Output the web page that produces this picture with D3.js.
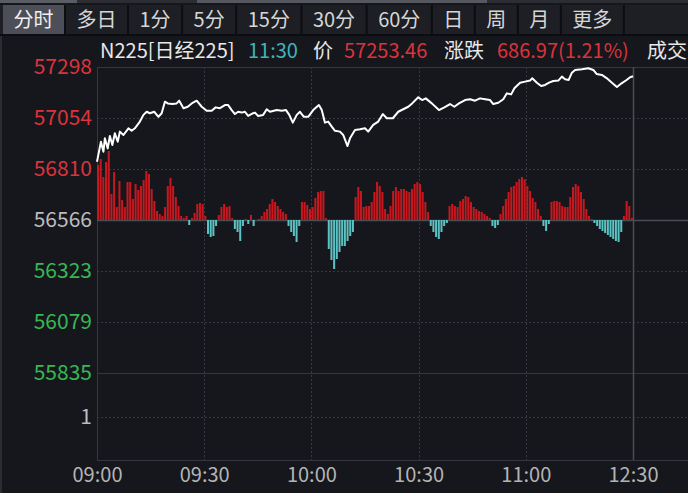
<!DOCTYPE html>
<html>
<head>
<meta charset="utf-8">
<script src="https://cdn.jsdelivr.net/npm/d3@7"></script>
<style>
html, body { margin: 0; padding: 0; background: #16171c; }
svg { display: block; font-family: "Noto Sans CJK SC", "Noto Sans", sans-serif; }
</style>
</head>
<body>
<svg id="chart" width="688" height="493"></svg>
<script>
// --- data ---
const tabLabels = ['分时', '多日', '1分', '5分', '15分', '30分', '60分', '日', '周', '月', '更多'];
const quoteName = 'N225[日经225]';
const quoteTime = '11:30';
const lastPrice = 57253.46;
const change = 686.97;
const changePct = 1.21;
const prevClose = 56566.49;

const priceTicks = [57298, 57054, 56810, 56566, 56323, 56079, 55835];
const volumeTicks = [1];
const timeTicks = [0, 30, 60, 90, 120, 150];           // minutes since 09:00 (morning session)
const timeLabels = ['09:00', '09:30', '10:00', '10:30', '11:00', '12:30'];

// price line: minutes since open, index level
const priceTimes = [0, 1.1, 1.8, 2.2, 3.0, 3.6, 4.3, 5.0, 5.8, 6.4,
  7.4, 8.8, 9.7, 10.6, 12.0, 13.0, 13.9, 14.8, 16.0, 17.2,
  18.1, 19.0, 19.8, 21.1, 22.3, 23.0, 24.2, 25.4, 26.5, 27.9,
  29.3, 30.7, 32.1, 33.2, 34.4, 35.8, 36.7, 37.7, 38.6, 39.5,
  40.5, 41.4, 42.3, 43.7, 44.2, 45.1, 46.5, 47.5, 48.4, 50.3,
  51.7, 52.9, 53.8, 54.8, 55.9, 56.8, 57.9, 59.1, 60.5, 62.1,
  62.9, 63.8, 64.7, 65.7, 66.6, 68.0, 68.9, 70.1, 70.8, 72.2,
  73.6, 75.0, 75.9, 77.3, 78.7, 80.0, 81.1, 82.8, 84.3, 85.7,
  87.1, 88.2, 89.9, 91.0, 92.0, 93.7, 95.7, 97.2, 98.8, 100.0,
  101.3, 103.0, 104.4, 105.8, 107.2, 108.6, 110.0, 110.9, 112.3, 113.7,
  114.7, 115.9, 116.8, 118.4, 119.8, 121.2, 121.8, 123.1, 124.3, 125.4,
  126.5, 127.7, 129.1, 130.1, 131.0, 132.0, 132.9, 133.8, 135.7, 137.5,
  138.9, 139.8, 141.3, 142.7, 144.1, 145.5, 146.8, 148.2, 149.2, 150];
const prices = [56845, 56941, 56893, 56957, 56909, 56968, 56925, 56981, 56941, 56989,
  56973, 57005, 56993, 57005, 57037, 57069, 57084, 57077, 57084, 57060,
  57077, 57132, 57124, 57121, 57124, 57137, 57101, 57108, 57124, 57137,
  57108, 57089, 57089, 57105, 57101, 57116, 57116, 57092, 57073, 57084,
  57080, 57084, 57064, 57077, 57080, 57064, 57069, 57096, 57084, 57092,
  57089, 57092, 57069, 57032, 57069, 57084, 57060, 57060, 57092, 57116,
  57092, 57032, 57037, 57013, 56993, 56989, 56973, 56920, 56957, 56997,
  57000, 57005, 56989, 57021, 57037, 57073, 57053, 57053, 57084, 57096,
  57108, 57124, 57153, 57140, 57148, 57124, 57092, 57105, 57121, 57108,
  57124, 57140, 57144, 57137, 57148, 57144, 57140, 57121, 57127, 57144,
  57172, 57167, 57196, 57223, 57228, 57233, 57244, 57223, 57207, 57212,
  57223, 57231, 57233, 57252, 57239, 57236, 57271, 57284, 57287, 57292,
  57284, 57265, 57260, 57244, 57223, 57202, 57220, 57236, 57249, 57253.46];

// buy/sell strength bars around the previous close
const strength = [55, 61, 43, 58, 69, 26, 48, 13, 39, 20,
  13, 38, 38, 21, 36, 30, 34, 40, 49, 46,
  31, 19, 9, 6, 4, 13, 34, 42, 34, 23,
  14, 4, 2, 4, -5, 2, 7, 16, 17, 16,
  4, -14, -17, -16, -6, 5, 13, 16, 13, 14,
  2, -9, -12, -21, -6, 1, -4, 5, -6, 0,
  1, 4, 8, 11, 16, 21, 18, 14, 11, 8,
  6, -6, -12, -16, -22, -6, 18, 18, 15, 11,
  13, 22, 28, 29, 29, 2, -29, -40, -49, -39,
  -32, -26, -26, -21, -16, -12, 23, 33, 29, 13,
  14, 14, 18, 28, 38, 34, 28, 11, 6, 14,
  29, 33, 29, 31, 31, 29, 28, 31, 36, 38,
  36, 28, 18, 8, -6, -12, -17, -19, -12, -6,
  -3, 14, 16, 14, 13, 19, 21, 24, 23, 18,
  13, 11, 9, 8, 6, 4, 2, -6, -8, -5,
  6, 14, 21, 28, 33, 34, 38, 41, 43, 41,
  34, 29, 22, 18, 11, 4, -6, -11, -4, 18,
  19, 19, 18, 14, 13, 13, 23, 33, 36, 34,
  28, 21, 11, 4, 1, -3, -6, -9, -11, -13,
  -15, -17, -19, -21, -22, -12, 4, 19, 14, 2];

// --- layout ---
const W = 688, H = 493;
const plotL = 97, plotR = W, plotT = 67, priceB = 373, plotB = 460, sessionEnd = 633;
const RED = '#dc333b', GREEN = '#35b852', FLAT = '#bcbcbc', GRID = '#363941';
const FONT = '"Noto Sans CJK SC", "Noto Sans", sans-serif';

const svg = d3.select('#chart');
svg.append('rect').attr('width', W).attr('height', H).attr('fill', '#16171c');

// top strip (scroll remnants)
svg.append('rect').attr('x', 0).attr('y', 0).attr('width', W).attr('height', 3).attr('fill', '#2b2d32');
svg.append('rect').attr('x', 0).attr('y', 0).attr('width', 77).attr('height', 3).attr('fill', '#5a5d63');
svg.append('rect').attr('x', 197).attr('y', 0).attr('width', 290).attr('height', 3).attr('fill', '#55585e');

// tab bar
const tabBar = svg.append('g');
tabBar.append('rect').attr('x', 0).attr('y', 5).attr('width', W).attr('height', 29).attr('fill', '#1d1f24');
let tx = 3;
tabLabels.forEach((label, i) => {
    const g = tabBar.append('g');
    const bg = g.append('rect').attr('y', 5).attr('height', 29)
        .attr('fill', i === 0 ? '#4c4f57' : 'none');
    const t = g.append('text').attr('y', 20).attr('dy', '0.35em')
        .attr('text-anchor', 'middle').attr('font-size', 20)
        .attr('fill', i === 0 ? '#f0f0f0' : '#d6d6d6').text(label);
    const w = t.node().getComputedTextLength() + 21;
    bg.attr('x', tx).attr('width', w);
    t.attr('x', tx + w / 2);
    tx += w;
    tabBar.append('rect').attr('x', tx).attr('y', 5).attr('width', 2).attr('height', 29).attr('fill', '#0c0d10');
    tx += 2;
});
svg.append('rect').attr('x', 0).attr('y', 34).attr('width', W).attr('height', 2).attr('fill', '#0c0d10');
svg.append('rect').attr('x', 0).attr('y', 36).attr('width', 2).attr('height', H - 36).attr('fill', '#2a2c31');

// quote header
const header = [
    { text: quoteName, color: '#e8e8e8', x: 100 },
    { text: quoteTime, color: '#3db4bd', x: 248 },
    { text: '价', color: '#e8e8e8', x: 313 },
    { text: d3.format('.2f')(lastPrice), color: RED, x: 344 },
    { text: '涨跌', color: '#e8e8e8', x: 444 },
    { text: `${d3.format('.2f')(change)}(${d3.format('.2f')(changePct)}%)`, color: RED, x: 497 },
    { text: '成交', color: '#e8e8e8', x: 647 }
];
svg.append('g').selectAll('text').data(header).join('text')
    .attr('x', d => d.x).attr('y', 58).attr('font-size', 20)
    .attr('fill', d => d.color).text(d => d.text);

// scales
const x = d3.scaleLinear().domain([0, 150]).range([plotL, sessionEnd]);
const y = d3.scaleLinear().domain([55835, 57298]).range([priceB, plotT]);
const vy = d3.scaleLinear().domain([0, 2]).range([plotB, priceB]);
const xb = d3.scaleBand().domain(d3.range(strength.length)).range([plotL, sessionEnd]).paddingInner(0.25);
const baseY = y(prevClose);
const sy = d3.scaleLinear().domain([-100, 100]).range([baseY + 100, baseY - 100]);

// grid
const grid = svg.append('g');
const hDotted = priceTicks.slice(1, -1).filter(v => v !== 56566).map(v => y(v)).concat(volumeTicks.map(v => vy(v)));
hDotted.forEach(py => {
    grid.append('line').attr('x1', plotL).attr('x2', plotR).attr('y1', Math.round(py) + 0.5).attr('y2', Math.round(py) + 0.5)
        .attr('stroke', GRID).attr('stroke-dasharray', '2,2');
});
timeTicks.slice(1, -1).forEach(t => {
    grid.append('line').attr('x1', Math.round(x(t)) + 0.5).attr('x2', Math.round(x(t)) + 0.5).attr('y1', plotT).attr('y2', plotB)
        .attr('stroke', GRID).attr('stroke-dasharray', '2,2');
});
[plotT, priceB, plotB].forEach(v => {
    grid.append('line').attr('x1', plotL).attr('x2', plotR).attr('y1', v + 0.5).attr('y2', v + 0.5).attr('stroke', '#34373e');
});
grid.append('line').attr('x1', plotL + 0.5).attr('x2', plotL + 0.5).attr('y1', plotT).attr('y2', plotB).attr('stroke', '#34373e');
grid.append('line').attr('x1', plotL).attr('x2', plotR).attr('y1', Math.round(baseY) + 0.5).attr('y2', Math.round(baseY) + 0.5)
    .attr('stroke', '#4a4d54').attr('stroke-width', 1.5);
grid.append('line').attr('x1', x(150) + 0.5).attr('x2', x(150) + 0.5).attr('y1', plotT).attr('y2', plotB)
    .attr('stroke', '#4a4d54').attr('stroke-width', 1.5);

// strength bars
svg.append('g').selectAll('rect').data(strength).join('rect')
    .attr('x', (d, i) => xb(i))
    .attr('width', xb.bandwidth())
    .attr('y', d => d >= 0 ? sy(d) : baseY)
    .attr('height', d => Math.abs(sy(d) - baseY))
    .attr('fill', d => d >= 0 ? '#c8181f' : '#5cc3c4');

// price line
const line = d3.line().x(d => x(d[0])).y(d => y(d[1]));
svg.append('path')
    .datum(d3.zip(priceTimes, prices))
    .attr('d', line)
    .attr('fill', 'none')
    .attr('stroke', '#ffffff')
    .attr('stroke-width', 2)
    .attr('stroke-linejoin', 'round');

// y axis labels
const yAxis = svg.append('g').attr('transform', `translate(${plotL},0)`)
    .call(d3.axisLeft(y).tickValues(priceTicks).tickSize(0).tickPadding(5).tickFormat(d3.format('d')));
yAxis.select('.domain').remove();
yAxis.selectAll('text')
    .attr('font-size', 21).attr('font-family', FONT)
    .attr('fill', d => d > 56566 ? RED : d < 56566 ? GREEN : FLAT);

const vAxis = svg.append('g').attr('transform', `translate(${plotL},0)`)
    .call(d3.axisLeft(vy).tickValues(volumeTicks).tickSize(0).tickPadding(5).tickFormat(d3.format('d')));
vAxis.select('.domain').remove();
vAxis.selectAll('text').attr('font-size', 21).attr('font-family', FONT).attr('fill', FLAT);

// x axis labels
const xAxis = svg.append('g').attr('transform', `translate(0,${plotB})`)
    .call(d3.axisBottom(x).tickValues(timeTicks).tickSize(0).tickPadding(8)
        .tickFormat((d, i) => timeLabels[i]));
xAxis.select('.domain').remove();
xAxis.selectAll('text').attr('font-size', 20).attr('font-family', FONT).attr('fill', '#b4b4b4');
</script>
</body>
</html>
